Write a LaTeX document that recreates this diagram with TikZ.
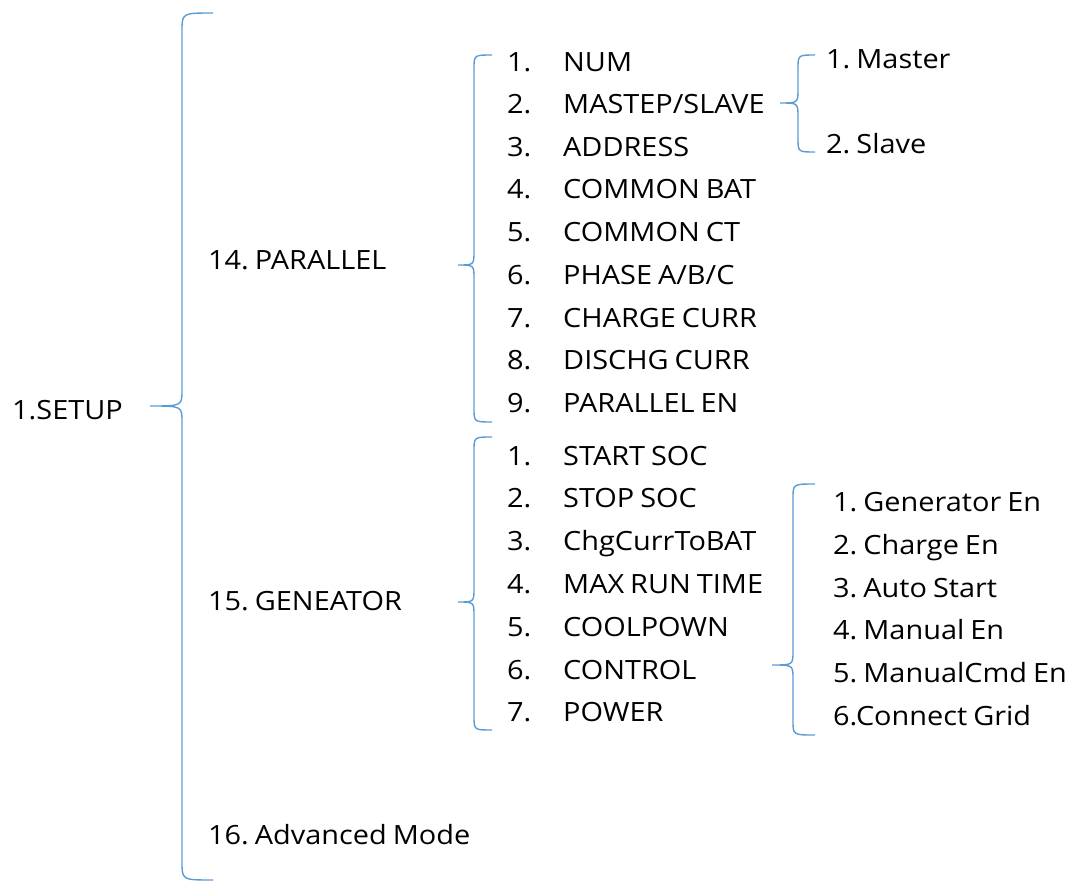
\documentclass[tikz,border=0pt]{standalone}
\usepackage{fontspec}
\setmainfont{Open Sans}[FakeStretch=1.09,WordSpace=0.8]
\definecolor{bracecol}{RGB}{91,155,213}
\newcommand{\mybrace}[8]{%
  % #1 xend, #2 xv, #3 xtip, #4 ytop, #5 ymid, #6 ybot, #7 r end, #8 r tip
  \draw[bracestyle] (#1,#4) .. controls (#2,#4) .. (#2,#4+#7) -- (#2,#5-#8)
    .. controls (#2,#5) .. (#3,#5) .. controls (#2,#5) .. (#2,#5+#8)
    -- (#2,#6-#7) .. controls (#2,#6) .. (#1,#6);}
\begin{document}
\frenchspacing
\begin{tikzpicture}[x=1pt,y=-1pt,
  bracestyle/.style={draw=bracecol,line width=1.4pt},
  lbl/.style={anchor=base west,inner sep=0pt,font=\fontsize{26.5}{30}\selectfont\frenchspacing}]
\useasboundingbox (0,0) rectangle (1070,883);
% braces
\mybrace{213}{182}{150}{13}{406}{880}{18}{16}
\mybrace{492}{474}{458}{55}{265}{422}{14}{14}
\mybrace{492}{474}{458}{437}{602}{730}{14}{14}
\mybrace{815}{798}{780}{55}{103}{152}{14}{14}
\mybrace{815}{793}{772}{484}{665}{735}{14}{14}
% level texts
\node[lbl] (setup) at (12,419.5) {1.SETUP};
\node[lbl] (par) at (208,269.5) {14. PARALLEL};
\node[lbl] (gen) at (208,610.5) {15. GENEATOR};
\node[lbl] (adv) at (208,844.5) {16. Advanced Mode};
% parallel list
\foreach \n/\t/\y [count=\i] in {1/NUM/62,2/MASTEP\slash SLAVE/104,3/ADDRESS/147,4/COMMON BAT/189,5/COMMON CT/232,6/PHASE A\slash B\slash C/275,7/CHARGE CURR/318,8/DISCHG CURR/360,9/PARALLEL EN/403}{
  \node[lbl] (pn\i) at (507,\y+9.5) {\n.};
  \node[lbl] (pt\i) at (563,\y+9.5) {\t};
}
% generator list
\foreach \n/\t/\y [count=\i] in {1/START SOC/456,2/STOP SOC/498,3/ChgCurrToBAT/541,4/MAX RUN TIME/584,5/COOLPOWN/627,6/CONTROL/670,7/POWER/712}{
  \node[lbl] (gn\i) at (507,\y+9.5) {\n.};
  \node[lbl] (gt\i) at (563,\y+9.5) {\t};
}
% master/slave
\node[lbl] (ms1) at (826,68.5) {1. Master};
\node[lbl] (ms2) at (826,153.5) {2. Slave};
% control sub list
\foreach \t/\y [count=\i] in {1. Generator En/502,2. Charge En/545,3. Auto Start/588,4. Manual En/630,5. ManualCmd En/673,6.Connect Grid/716}{
  \node[lbl] (cs\i) at (833,\y+9.5) {\t};
}
\end{tikzpicture}
\end{document}
